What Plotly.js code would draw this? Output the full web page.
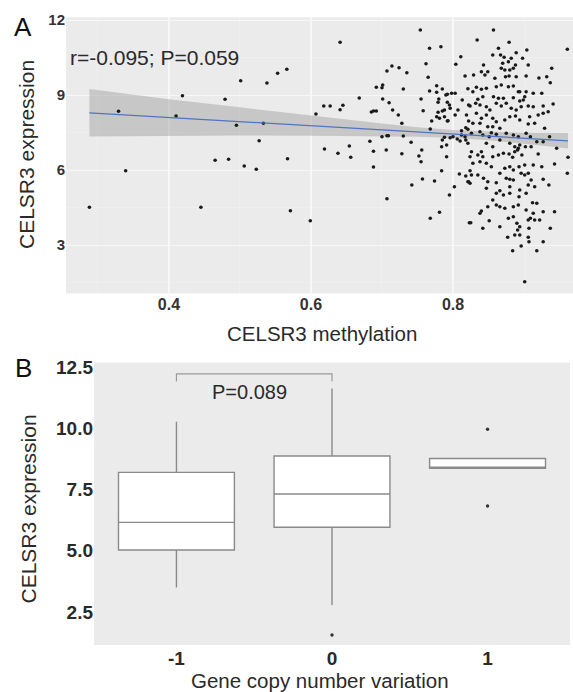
<!DOCTYPE html>
<html>
<head>
<meta charset="utf-8">
<script src="https://cdn.plot.ly/plotly-3.0.1.min.js"></script>
<style>
  html, body { margin: 0; padding: 0; background: #ffffff; }
  #chart { width: 573px; height: 692px; }
</style>
</head>
<body>
<div id="chart"></div>
<script>
// ---------- Panel A data: CELSR3 methylation (x) vs expression (y) ----------
const scatterPoints = [
  [0.288,4.51],[0.329,8.35],[0.339,5.97],[0.410,8.16],[0.419,8.97],[0.445,4.51],[0.465,6.39],
  [0.479,8.83],[0.501,9.57],[0.495,7.79],[0.484,6.43],[0.506,6.16],[0.523,6.03],[0.527,7.17],
  [0.533,7.87],[0.538,9.48],[0.553,9.87],[0.566,10.03],[0.567,6.45],[0.571,4.37],[0.599,3.97],
  [0.607,8.24],[0.618,8.56],[0.627,8.56],[0.641,11.11],[0.641,8.41],[0.645,8.59],[0.619,6.84],
  [0.638,6.67],[0.654,6.96],[0.656,6.51],[0.668,8.88],[0.683,7.15],[0.685,8.32],[0.688,6.75],
  [0.688,6.12],[0.688,8.36],[0.692,8.36],[0.692,9.31],[0.700,9.29],[0.701,9.40],[0.701,8.84],
  [0.700,7.33],[0.707,7.37],[0.709,7.37],[0.706,6.80],[0.707,4.85],[0.707,9.96],[0.714,10.16],
  [0.724,10.09],[0.735,9.89],[0.710,8.69],[0.715,8.40],[0.723,8.20],[0.728,7.87],[0.730,9.24],
  [0.728,6.65],[0.730,7.36],[0.741,7.11],[0.742,5.40],[0.752,6.56],[0.755,6.33],[0.757,5.64],
  [0.754,11.60],[0.755,8.84],[0.758,8.37],[0.762,10.25],[0.765,9.71],[0.767,10.87],[0.768,4.07],
  [0.768,7.64],[0.770,7.96],[0.774,5.56],[0.777,9.37],[0.779,8.31],[0.781,4.31],[0.783,10.93],
  [0.784,5.97],[0.784,6.93],[0.785,7.20],[0.785,9.24],[0.767,9.16],[0.777,9.11],[0.790,9.00],
  [0.792,9.03],[0.798,9.07],[0.803,9.07],[0.779,8.71],[0.792,8.71],[0.795,8.60],[0.796,8.47],
  [0.785,8.36],[0.803,8.20],[0.792,7.96],[0.822,8.60],[0.822,7.96],[0.818,7.69],[0.796,7.29],
  [0.806,7.24],[0.810,7.16],[0.818,7.20],[0.791,7.00],[0.756,6.80],[0.818,5.76],[0.822,5.53],
  [0.802,5.33],[0.823,3.89],[0.811,10.53],[0.804,10.23],[0.795,5.00],[0.809,5.84],[0.780,8.84],
  [0.788,8.40],[0.807,8.40],[0.777,8.13],[0.781,8.07],[0.788,8.13],[0.793,7.97],[0.788,7.31],
  [0.800,7.33],[0.812,7.40],[0.791,6.53],
  [0.857,11.60],[0.834,11.20],[0.879,11.11],[0.961,10.83],[0.904,10.80],[0.864,10.87],[0.889,10.69],
  [0.867,10.60],[0.872,10.51],[0.882,10.47],[0.898,10.47],[0.878,10.33],[0.856,10.60],[0.870,10.27],
  [0.888,10.20],[0.906,10.20],[0.843,10.20],[0.939,10.07],[0.873,10.00],[0.868,10.07],[0.880,10.00],
  [0.885,10.07],
  [0.817,9.76],[0.829,9.80],[0.840,9.93],[0.845,9.80],[0.849,9.93],[0.859,9.67],[0.874,9.73],
  [0.879,9.76],[0.889,9.73],[0.903,9.76],[0.921,9.68],[0.932,9.73],[0.937,9.49],[0.821,9.25],
  [0.833,9.31],[0.840,9.23],[0.847,9.27],[0.861,9.33],[0.868,9.40],[0.878,9.33],[0.885,9.36],
  [0.892,9.13],[0.894,9.13],[0.903,9.13],[0.913,9.07],[0.925,9.07],[0.901,8.93],[0.842,8.93],
  [0.857,8.93],[0.864,8.87],[0.871,8.87],[0.885,8.89],[0.835,8.83],[0.828,9.13],[0.813,8.80],
  [0.832,8.67],[0.824,8.56],[0.838,8.60],[0.847,8.53],[0.852,8.40],[0.861,8.67],[0.868,8.56],
  [0.875,8.67],[0.882,8.47],[0.889,8.40],[0.896,8.53],[0.906,8.56],[0.913,8.53],[0.927,8.56],
  [0.934,8.33],[0.941,8.64],[0.927,8.27],[0.899,8.80],[0.894,8.76],
  [0.833,8.27],[0.840,8.07],[0.847,8.20],[0.856,8.07],[0.861,7.93],[0.873,8.00],[0.880,8.13],
  [0.888,8.16],[0.894,8.00],[0.908,8.13],[0.920,8.20],[0.819,8.20],[0.828,7.87],[0.838,7.87],
  [0.849,7.73],[0.856,7.73],[0.866,7.67],[0.906,7.84],[0.915,7.87],[0.929,7.67],[0.812,7.57],
  [0.821,7.63],[0.826,7.47],[0.817,7.33],[0.838,7.53],[0.842,7.40],[0.851,7.33],[0.854,7.49],
  [0.861,7.43],[0.875,7.47],[0.885,7.40],[0.892,7.33],[0.903,7.47],[0.909,7.33],[0.918,7.13],
  [0.927,7.13],[0.936,7.33],[0.847,7.07],[0.856,6.93],[0.866,7.20],[0.880,7.07],[0.887,6.93],
  [0.892,6.87],[0.894,7.00],[0.902,6.93],[0.910,6.93],[0.946,6.87],[0.962,6.51],
  [0.821,7.07],[0.826,6.73],[0.835,6.60],[0.840,6.73],[0.842,6.53],[0.856,6.53],[0.864,6.60],
  [0.871,6.67],[0.879,6.64],[0.884,6.51],[0.887,6.73],[0.891,6.80],[0.897,6.60],[0.920,6.64],
  [0.943,6.24],[0.961,5.87],[0.824,6.53],[0.828,6.27],[0.838,6.33],[0.847,6.27],[0.854,6.13],
  [0.866,5.87],[0.873,6.07],[0.880,6.13],[0.885,6.00],[0.893,6.13],[0.901,6.20],[0.913,6.20],
  [0.925,6.13],[0.824,5.97],[0.826,5.80],[0.835,5.80],[0.843,5.67],[0.849,5.53],[0.861,5.49],
  [0.875,5.67],[0.880,5.63],[0.885,5.60],[0.896,5.87],[0.901,5.80],[0.906,5.87],[0.910,5.60],
  [0.927,5.63],[0.935,5.40],[0.821,5.53],[0.824,5.47],[0.847,5.27],[0.866,5.17],[0.880,5.33],
  [0.894,5.20],[0.906,5.40],[0.915,5.33],
  [0.861,5.07],[0.871,5.00],[0.880,5.07],[0.903,5.07],[0.893,4.93],[0.856,4.80],[0.912,4.69],
  [0.918,4.67],[0.838,4.27],[0.840,4.36],[0.849,4.53],[0.861,4.60],[0.866,4.53],[0.873,4.47],
  [0.885,4.53],[0.892,4.60],[0.903,4.40],[0.913,4.27],[0.927,4.33],[0.943,4.33],[0.825,3.89],
  [0.842,3.67],[0.851,3.97],[0.866,3.73],[0.878,4.07],[0.885,4.13],[0.890,3.87],[0.906,4.00],
  [0.909,4.07],[0.915,4.00],[0.922,4.00],[0.891,3.60],[0.894,3.73],[0.907,3.67],[0.937,3.67],
  [0.877,3.31],[0.887,3.40],[0.894,3.40],[0.906,3.31],[0.907,3.13],[0.927,3.13],[0.896,2.96],
  [0.884,2.77],[0.918,2.77],[0.901,1.53]
];
const methylation = scatterPoints.map(p => p[0]);
const expression = scatterPoints.map(p => p[1]);

// fitted regression line with 95% confidence band
const fitX     = [0.288, 0.40, 0.50, 0.60, 0.70, 0.75, 0.80, 0.85, 0.90, 0.962];
const fitY     = [8.29, 8.10, 7.94, 7.77, 7.61, 7.52, 7.44, 7.36, 7.27, 7.17];
const bandHigh = [9.24, 8.83, 8.51, 8.17, 7.86, 7.71, 7.60, 7.54, 7.49, 7.48];
const bandLow  = [7.34, 7.37, 7.38, 7.37, 7.36, 7.33, 7.28, 7.19, 7.05, 6.86];
const corrLabel = "r=-0.095; P=0.059";

// ---------- Panel B data: expression by gene copy number variation ----------
const cnvGroups  = [-1, 0, 1];
const cnvLabels  = ["-1", "0", "1"];
const boxQ1      = [5.03, 5.96, 8.37];
const boxMedian  = [6.16, 7.32, 8.37];
const boxQ3      = [8.20, 8.87, 8.77];
const boxLower   = [3.50, 2.78, 8.37];
const boxUpper   = [10.27, 11.63, 8.77];
const outlierX   = [0, 1, 1];
const outlierY   = [1.56, 9.96, 6.83];
const bracketGroups = [-1, 0];
const bracketTop = 12.22;
const bracketTickBottom = 11.91;
const pLabel = "P=0.089";
const pLabelPos = [-0.532, 11.5];

const FONT = "Liberation Sans, Arial, Helvetica, sans-serif";
const W = 573, H = 692;
const px = v => v / W;           // helper: pixel -> paper fraction (x)
const py = v => 1 - v / H;       // helper: pixel -> paper fraction (y)

const traces = [
  // confidence band
  { x: fitX, y: bandLow, type: "scatter", mode: "lines", line: {width: 0, color: "rgba(0,0,0,0)"},
    xaxis: "x", yaxis: "y", hoverinfo: "skip", showlegend: false },
  { x: fitX, y: bandHigh, type: "scatter", mode: "lines", line: {width: 0, color: "rgba(0,0,0,0)"},
    fill: "tonexty", fillcolor: "rgba(150,150,150,0.42)",
    xaxis: "x", yaxis: "y", hoverinfo: "skip", showlegend: false },
  // points
  { x: methylation, y: expression, type: "scatter", mode: "markers",
    marker: {size: 3.6, color: "#1a1a1a"}, xaxis: "x", yaxis: "y", showlegend: false },
  // fit line
  { x: fitX, y: fitY, type: "scatter", mode: "lines",
    line: {color: "#4f74c4", width: 1.2}, xaxis: "x", yaxis: "y", showlegend: false },
  // boxes
  { type: "box", x: cnvGroups, q1: boxQ1, median: boxMedian, q3: boxQ3,
    lowerfence: boxLower, upperfence: boxUpper, width: 0.745, boxpoints: false,
    whiskerwidth: 0, fillcolor: "#ffffff", line: {color: "#8a8a8a", width: 1.4},
    xaxis: "x2", yaxis: "y2", showlegend: false },
  // outliers
  { x: outlierX, y: outlierY, type: "scatter", mode: "markers",
    marker: {size: 3.4, color: "#333333"}, xaxis: "x2", yaxis: "y2", showlegend: false },
  // significance bracket
  { x: [bracketGroups[0], bracketGroups[0], bracketGroups[1], bracketGroups[1]],
    y: [bracketTickBottom, bracketTop, bracketTop, bracketTickBottom],
    type: "scatter", mode: "lines", line: {color: "#9a9a9a", width: 1.2},
    xaxis: "x2", yaxis: "y2", showlegend: false, hoverinfo: "skip" }
];

const layout = {
  width: W, height: H,
  margin: {l: 0, r: 0, t: 0, b: 0, pad: 0},
  paper_bgcolor: "#ffffff",
  plot_bgcolor: "#ebebeb",
  font: {family: FONT, color: "#2a2a2a"},
  showlegend: false,
  xaxis: {
    domain: [px(66), 1], anchor: "y", range: [0.255, 0.969],
    tickmode: "array", tickvals: [0.4, 0.6, 0.8], ticktext: ["0.4", "0.6", "0.8"],
    ticks: "", showline: false, zeroline: false,
    showgrid: true, gridcolor: "#f7f7f7", gridwidth: 1.1,
    minor: {tickvals: [0.3, 0.5, 0.7, 0.9], showgrid: true, gridcolor: "#f2f2f2", gridwidth: 0.6},
    tickfont: {size: 16, color: "#333333", weight: "bold"}
  },
  yaxis: {
    domain: [py(293.3), py(17.3)], anchor: "x", range: [1.07, 12.11],
    tickmode: "array", tickvals: [3, 6, 9, 12], ticktext: ["3", "6", "9", "12"],
    ticks: "", showline: false, zeroline: false,
    showgrid: true, gridcolor: "#f7f7f7", gridwidth: 1.1,
    minor: {tickvals: [1.5, 4.5, 7.5, 10.5], showgrid: true, gridcolor: "#f2f2f2", gridwidth: 0.6},
    tickfont: {size: 15, color: "#333333", weight: "bold"}
  },
  xaxis2: {
    domain: [px(94), px(570)], anchor: "y2", range: [-1.53, 1.53],
    tickmode: "array", tickvals: cnvGroups, ticktext: cnvLabels,
    ticks: "", showline: false, zeroline: false, showgrid: false,
    tickfont: {size: 19, color: "#2a2a2a", weight: "bold"}
  },
  yaxis2: {
    domain: [py(645), py(362.7)], anchor: "x2", range: [1.15, 12.68],
    tickmode: "array", tickvals: [2.5, 5, 7.5, 10, 12.5],
    ticktext: ["2.5", "5.0", "7.5", "10.0", "12.5"],
    ticks: "", showline: false, zeroline: false, showgrid: false,
    tickfont: {size: 19, color: "#2a2a2a", weight: "bold"}
  },
  annotations: [
    {text: "A", xref: "paper", yref: "paper", x: px(23), y: py(27), showarrow: false,
     xanchor: "center", yanchor: "middle", font: {size: 26, color: "#111111"}},
    {text: "B", xref: "paper", yref: "paper", x: px(23), y: py(368), showarrow: false,
     xanchor: "center", yanchor: "middle", font: {size: 26, color: "#111111"}},
    {text: corrLabel, xref: "paper", yref: "paper", x: px(68), y: py(57), showarrow: false,
     xanchor: "left", yanchor: "middle", font: {size: 21, color: "#2a2a2a"}},
    {text: "CELSR3 expression", xref: "paper", yref: "paper", x: px(26), y: py(155),
     textangle: -90, showarrow: false, xanchor: "center", yanchor: "middle",
     font: {size: 21, color: "#2a2a2a"}},
    {text: "CELSR3 methylation", xref: "paper", yref: "paper", x: px(322), y: py(333),
     showarrow: false, xanchor: "center", yanchor: "middle", font: {size: 20.5, color: "#2a2a2a"}},
    {text: "CELSR3 expression", xref: "paper", yref: "paper", x: px(27.5), y: py(509),
     textangle: -90, showarrow: false, xanchor: "center", yanchor: "middle",
     font: {size: 21, color: "#2a2a2a"}},
    {text: "Gene copy number variation", xref: "paper", yref: "paper", x: px(320), y: py(680),
     showarrow: false, xanchor: "center", yanchor: "middle", font: {size: 20.5, color: "#2a2a2a"}},
    {text: pLabel, xref: "x2", yref: "y2", x: pLabelPos[0], y: pLabelPos[1], showarrow: false,
     xanchor: "center", yanchor: "middle", font: {size: 20, color: "#2a2a2a"}}
  ]
};

Plotly.newPlot("chart", traces, layout, {displayModeBar: false, staticPlot: true});
</script>
</body>
</html>
